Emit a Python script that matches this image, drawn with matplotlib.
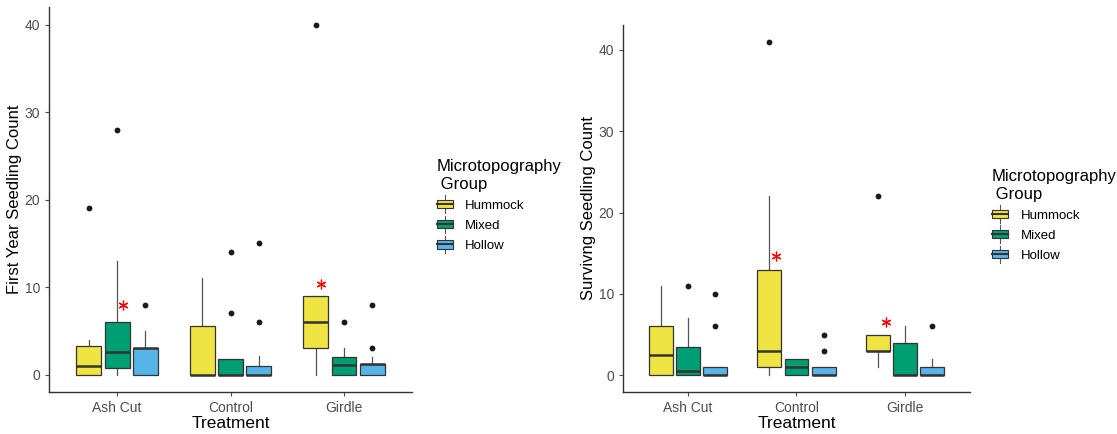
import matplotlib
import matplotlib.pyplot as plt
from matplotlib.legend_handler import HandlerBase
from matplotlib.lines import Line2D
from matplotlib.patches import Rectangle

matplotlib.use("Agg")

plt.rcParams["font.family"] = ["Liberation Sans", "DejaVu Sans"]

treatments = ["Ash Cut", "Control", "Girdle"]
groups = ["Hummock", "Mixed", "Hollow"]
group_colors = ["#F0E442", "#009E73", "#56B4E9"]

# Box statistics, rows = treatment, columns = microtopography group
first_q1 = [[0, 0.8, 0], [0, 0, 0], [3, 0, 0]]
first_med = [[1, 2.6, 3], [0, 0, 0], [6, 1.1, 1.2]]
first_q3 = [[3.25, 6, 3.05], [5.5, 1.75, 1], [9, 2, 1.25]]
first_lo = [[0, 0, 0], [0, 0, 0], [0, 0, 0]]
first_hi = [[4, 13, 5], [11, 1.75, 2.1], [9, 3, 2]]
first_out = [[[19], [28], [8]], [[], [7, 14], [6, 15]], [[40], [6], [3, 8]]]
first_stars = [(1.05, 7.9), (2.8, 10.4)]

surv_q1 = [[0, 0, 0], [1, 0, 0], [3, 0, 0]]
surv_med = [[2.5, 0.5, 0], [3, 1, 0], [3, 0, 0]]
surv_q3 = [[6, 3.5, 1], [13, 2, 1], [5, 4, 1]]
surv_lo = [[0, 0, 0], [0, 0, 0], [1, 0, 0]]
surv_hi = [[11, 7, 1], [22, 2, 1], [5, 6, 2]]
surv_out = [[[], [11], [6, 10]], [[41], [], [3, 5]], [[22], [], [6]]]
surv_stars = [(1.81, 14.7), (2.83, 6.6)]

EDGE = "#333333"
DODGE = 0.25
BOX_W = 0.22


class BoxKeyHandler(HandlerBase):
    """Legend key drawn as a tiny boxplot."""

    def create_artists(self, legend, orig_handle, xdescent, ydescent,
                       width, height, fontsize, trans):
        cx = width / 2 - xdescent
        bw = width * 0.9
        bh = height * 0.7
        y0 = -ydescent + (height - bh) / 2
        top = -ydescent + height * 1.25
        bot = -ydescent - height * 0.25
        whisk_up = Line2D([cx, cx], [y0 + bh, top], color="#555555", lw=0.8,
                          transform=trans)
        whisk_dn = Line2D([cx, cx], [bot, y0], color="#555555", lw=0.8,
                          transform=trans)
        rect = Rectangle((cx - bw / 2, y0), bw, bh,
                         facecolor=orig_handle.get_facecolor(),
                         edgecolor=EDGE, lw=0.8, transform=trans)
        mid = Line2D([cx - bw / 2, cx + bw / 2], [y0 + bh / 2, y0 + bh / 2],
                     color=EDGE, lw=1.5, transform=trans)
        return [whisk_up, whisk_dn, rect, mid]


def draw_panel(ax, q1, med, q3, lo, hi, out, stars, ylabel, ylim):
    for i in range(len(treatments)):
        for j in range(len(groups)):
            stats = [{
                "q1": q1[i][j], "med": med[i][j], "q3": q3[i][j],
                "whislo": lo[i][j], "whishi": hi[i][j], "fliers": out[i][j],
            }]
            pos = i + 1 + (j - 1) * DODGE
            bp = ax.bxp(
                stats, positions=[pos], widths=BOX_W, patch_artist=True,
                showcaps=False, manage_ticks=False,
                boxprops=dict(facecolor=group_colors[j], edgecolor=EDGE, lw=0.9),
                whiskerprops=dict(color="#555555", lw=0.9),
                medianprops=dict(color=EDGE, lw=1.8),
                flierprops=dict(marker="o", markerfacecolor="#1a1a1a",
                                markeredgecolor="none", markersize=4.2),
            )
            for w in bp["whiskers"]:
                w.set_zorder(1)

    for sx, sy in stars:
        ax.plot(sx, sy, marker=(6, 2, 0), color="red", markersize=7,
                markeredgewidth=0.9, linestyle="none")

    ax.set_xlim(0.4, 3.6)
    ax.set_ylim(*ylim)
    ax.set_xticks(range(1, len(treatments) + 1))
    ax.set_xticklabels(treatments)
    ax.set_yticks([0, 10, 20, 30, 40])
    ax.tick_params(colors="#4D4D4D", labelsize=10, length=3, width=0.8,
                   labelcolor="#4D4D4D")
    ax.set_xlabel("Treatment", fontsize=12.5, labelpad=1)
    ax.set_ylabel(ylabel, fontsize=12, labelpad=2)
    for side in ["top", "right"]:
        ax.spines[side].set_visible(False)
    for side in ["left", "bottom"]:
        ax.spines[side].set_color("#333333")
        ax.spines[side].set_linewidth(1.0)


fig = plt.figure(figsize=(11.17, 4.34), dpi=100)
ax1 = fig.add_axes([0.0439, 0.0968, 0.325, 0.886])
ax2 = fig.add_axes([0.5577, 0.0968, 0.3107, 0.8456])

draw_panel(ax1, first_q1, first_med, first_q3, first_lo, first_hi, first_out,
           first_stars, "First Year Seedling Count", (-2, 42))
draw_panel(ax2, surv_q1, surv_med, surv_q3, surv_lo, surv_hi, surv_out,
           surv_stars, "Survivng Seedling Count", (-2.05, 43.05))

handles = [Rectangle((0, 0), 1, 1, facecolor=c) for c in group_colors]
for anchor in [(0.380, 0.660), (0.877, 0.637)]:
    leg = fig.legend(
        handles, groups, title="Microtopography\n Group",
        loc="upper left", bbox_to_anchor=anchor, frameon=False,
        fontsize=9.5, title_fontsize=12, alignment="left",
        handler_map={Rectangle: BoxKeyHandler()},
        handlelength=1.3, handleheight=1.0, handletextpad=0.9,
        labelspacing=0.5,
    )

fig.savefig("out.png", dpi=100, facecolor="white")
